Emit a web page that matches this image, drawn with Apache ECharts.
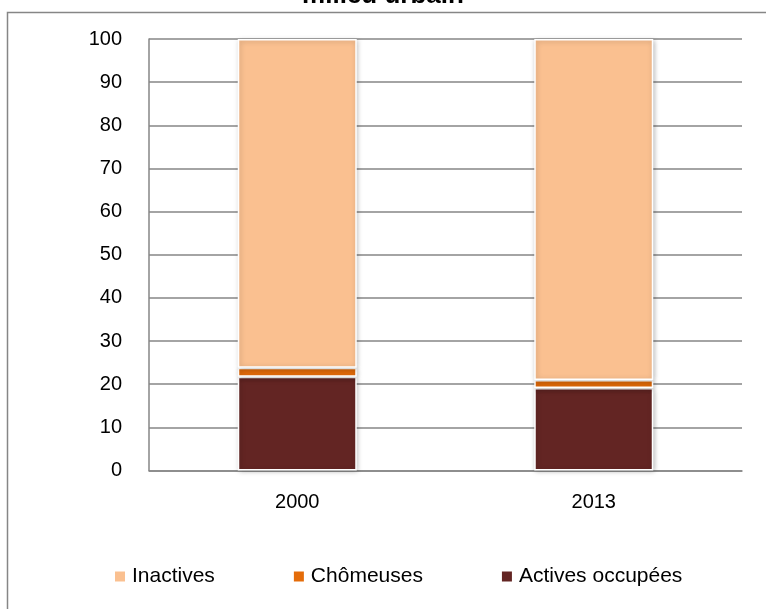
<!DOCTYPE html>
<html><head><meta charset="utf-8">
<script src="https://cdn.jsdelivr.net/npm/echarts@6/dist/echarts.min.js"></script>
<style>html,body{margin:0;padding:0;background:#fff}#c{width:766px;height:609px}</style>
</head><body><div id="c"></div>
<script>
const categories = ['2000', '2013'];
const activesOccupees = [21.7, 19.1];
const chomeuses = [2.1, 1.9];
const inactives = [76.2, 79.0];
const yTicks = [0, 10, 20, 30, 40, 50, 60, 70, 80, 90, 100];

const chart = echarts.init(document.getElementById('c'));
const font = '"Liberation Sans", "DejaVu Sans", sans-serif';
const barStyle = (c) => ({ color: c, borderColor: '#ffffff', borderWidth: 1.5,
  shadowColor: 'rgba(0,0,0,0.25)', shadowBlur: 5, shadowOffsetX: 1, shadowOffsetY: 1 });
chart.setOption({
  animation: false,
  title: { text: 'milieu urbain', left: 'center', top: -22,
    textStyle: { fontFamily: font, fontWeight: 'bold', fontSize: 26, color: '#000' } },
  graphic: [{ type: 'rect', shape: { x: 7.5, y: 12.5, width: 800, height: 650 },
    style: { fill: null, stroke: '#868686', lineWidth: 1.5 }, silent: true, z: -1 }],
  grid: { left: 149, right: 24, top: 39, bottom: 138.5 },
  legend: {
    top: 561, left: 108, itemGap: 77, itemWidth: 12, itemHeight: 12,
    icon: 'rect', data: ['Inactives', 'Chômeuses', 'Actives occupées'],
    textStyle: { fontFamily: font, fontSize: 21, color: '#000', padding: [0, 0, 0, 1] }
  },
  xAxis: { type: 'category', data: categories,
    axisLine: { lineStyle: { color: '#868686', width: 1.5 } }, axisTick: { show: false },
    axisLabel: { fontFamily: font, fontSize: 20, color: '#000', margin: 22 } },
  yAxis: { type: 'value', min: yTicks[0], max: yTicks[yTicks.length - 1], interval: 10,
    axisLine: { show: true, lineStyle: { color: '#868686', width: 1.5 } }, axisTick: { show: false },
    splitLine: { lineStyle: { color: '#868686', width: 1.5 } },
    axisLabel: { fontFamily: font, fontSize: 20, color: '#000', margin: 27 } },
  series: [
    { name: 'Actives occupées', type: 'bar', stack: 't', data: activesOccupees, barWidth: 119,
      itemStyle: barStyle('#632523') },
    { name: 'Chômeuses', type: 'bar', stack: 't', data: chomeuses, itemStyle: barStyle('#E46C0A') },
    { name: 'Inactives', type: 'bar', stack: 't', data: inactives, itemStyle: barStyle('#FAC090') }
  ]
});
</script></body></html>
